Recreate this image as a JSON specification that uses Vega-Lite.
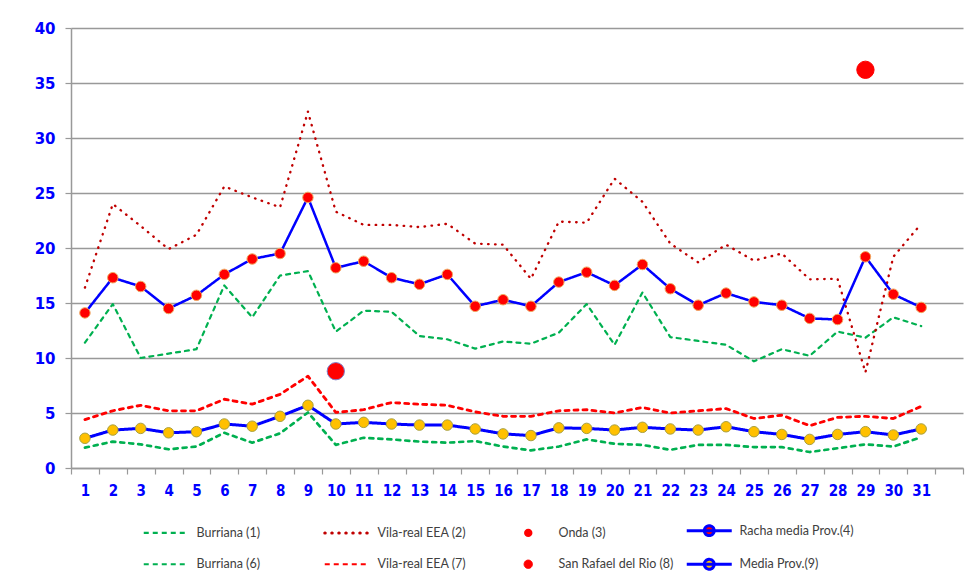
{
  "$schema": "https://vega.github.io/schema/vega-lite/v6.json",
  "width": 892,
  "height": 440,
  "autosize": {"type": "none"},
  "padding": {"left": 71, "top": 28, "right": 16, "bottom": 114},
  "background": "white",
  "config": {"view": {"stroke": null}},
  "datasets": {
    "d": [
      {"series": "Burriana (1)", "vals": [11.4,14.9,10.0,10.4,10.8,16.6,13.7,17.5,17.9,12.4,14.3,14.2,12.0,11.7,10.85,11.5,11.3,12.3,14.9,11.2,15.95,11.9,11.55,11.2,9.7,10.8,10.2,12.4,11.85,13.7,12.9]},
      {"series": "Vila-real EEA (2)", "vals": [16.4,24.0,22.0,19.9,21.2,25.6,24.6,23.7,32.4,23.3,22.1,22.1,21.9,22.2,20.4,20.3,17.2,22.4,22.3,26.3,24.2,20.4,18.7,20.3,18.85,19.5,17.15,17.2,8.7,19.2,22.2]},
      {"series": "Racha media Prov.(4)", "vals": [14.1,17.3,16.5,14.5,15.7,17.6,19.0,19.5,24.6,18.2,18.8,17.3,16.7,17.6,14.7,15.3,14.7,16.9,17.8,16.6,18.5,16.3,14.8,15.9,15.1,14.8,13.6,13.5,19.2,15.8,14.6]},
      {"series": "Burriana (6)", "vals": [1.85,2.4,2.15,1.7,1.95,3.2,2.3,3.15,5.05,2.1,2.75,2.6,2.4,2.3,2.45,1.95,1.6,1.95,2.6,2.2,2.1,1.65,2.1,2.1,1.9,1.9,1.45,1.8,2.15,1.95,2.8]},
      {"series": "Vila-real EEA (7)", "vals": [4.4,5.2,5.7,5.2,5.2,6.25,5.8,6.7,8.35,5.05,5.3,5.95,5.8,5.7,5.1,4.7,4.7,5.2,5.3,5.0,5.5,5.0,5.2,5.4,4.5,4.8,3.85,4.6,4.7,4.5,5.6]},
      {"series": "Media Prov.(9)", "vals": [2.7,3.45,3.6,3.2,3.3,4.0,3.8,4.7,5.7,4.0,4.15,4.0,3.9,3.9,3.55,3.1,2.95,3.65,3.6,3.45,3.7,3.55,3.45,3.75,3.3,3.05,2.6,3.05,3.3,3.0,3.55]}
    ],
    "single": [
      {"series": "Onda (3)", "day": 29, "value": 36.2},
      {"series": "San Rafael del Rio (8)", "day": 10, "value": 8.8}
    ]
  },
  "encoding": {
    "x": {
      "field": "day", "type": "ordinal",
      "scale": {"domain": [1,2,3,4,5,6,7,8,9,10,11,12,13,14,15,16,17,18,19,20,21,22,23,24,25,26,27,28,29,30,31,32], "paddingInner": 0, "paddingOuter": 0},
      "axis": {
        "title": null, "labelAngle": 0, "labelExpr": "datum.value == 32 ? '' : datum.label",
        "tickBand": "extent", "domainColor": "#999999", "domainWidth": 1.5, "tickColor": "#999999", "tickWidth": 1.2, "tickSize": 6,
        "labelFont": "DejaVu Sans Condensed", "labelFontWeight": "bold", "labelFontSize": 15, "labelColor": "#0000FF", "labelPadding": 9
      }
    },
    "y": {
      "field": "value", "type": "quantitative",
      "scale": {"domain": [0, 40], "nice": false},
      "axis": {
        "title": null, "values": [0,5,10,15,20,25,30,35,40], "grid": true, "gridColor": "#999999", "gridWidth": 1.5,
        "domainColor": "#999999", "domainWidth": 1.5, "tickColor": "#999999", "tickWidth": 1.2, "tickSize": 6,
        "labelFont": "DejaVu Sans", "labelFontWeight": "bold", "labelFontSize": 15, "labelColor": "#0000FF", "labelPadding": 10
      }
    }
  },
  "layer": [
    {
      "data": {"name": "d"},
      "transform": [
        {"flatten": ["vals"], "as": ["value"]},
        {"window": [{"op": "row_number", "as": "day"}], "groupby": ["series"]}
      ],
      "mark": {"type": "line", "strokeCap": "round", "strokeJoin": "round"},
      "encoding": {
        "color": {
          "field": "series", "type": "nominal",
          "scale": {
            "domain": ["Burriana (1)", "Vila-real EEA (2)", "Onda (3)", "Racha media Prov.(4)", "Burriana (6)", "Vila-real EEA (7)", "San Rafael del Rio (8)", "Media Prov.(9)"],
            "range": ["#00B050", "#C00000", "#FF0000", "#0000FF", "#00B050", "#FF0000", "#FF0000", "#0000FF"]
          },
          "legend": {
            "orient": "none", "direction": "horizontal", "legendX": 89, "legendY": 496, "columns": 4, "gridAlign": "all", "title": null,
            "symbolSize": 2025, "symbolStrokeWidth": 2,
            "labelFont": "Lato", "labelFontSize": 12.5, "labelColor": "#404040", "labelOffset": 24,
            "columnPadding": 6, "rowPadding": 11,
            "encode": {
              "symbols": {
                "update": {
                  "shape": {"signal": "(datum.value == 'Onda (3)' || datum.value == 'San Rafael del Rio (8)') ? 'circle' : (datum.value == 'Racha media Prov.(4)' || datum.value == 'Media Prov.(9)') ? 'M-1,0L1,0M-0.22,0A0.22,0.22 0 1,0 0.22,0A0.22,0.22 0 1,0 -0.22,0' : 'stroke'"},
                  "size": {"signal": "(datum.value == 'Onda (3)' || datum.value == 'San Rafael del Rio (8)') ? 70 : 2025"},
                  "fill": {"signal": "datum.value == 'Media Prov.(9)' ? '#FFC000' : (datum.value == 'Onda (3)' || datum.value == 'San Rafael del Rio (8)' || datum.value == 'Racha media Prov.(4)') ? '#FF0000' : 'transparent'"},
                  "stroke": {"signal": "(datum.value == 'Burriana (1)' || datum.value == 'Burriana (6)') ? '#00B050' : datum.value == 'Vila-real EEA (2)' ? '#C00000' : datum.value == 'Vila-real EEA (7)' ? '#FF0000' : datum.value == 'Onda (3)' ? 'transparent' : datum.value == 'San Rafael del Rio (8)' ? '#8080C8' : '#0000FF'"},
                  "strokeWidth": {"signal": "datum.value == 'San Rafael del Rio (8)' ? 1 : datum.value == 'Onda (3)' ? 0 : (datum.value == 'Racha media Prov.(4)' || datum.value == 'Media Prov.(9)') ? 3 : datum.value == 'Vila-real EEA (2)' ? 3 : 2.2"},
                  "strokeDash": {"signal": "datum.value == 'Vila-real EEA (2)' ? [0.5, 6.5] : (datum.value == 'Burriana (1)' || datum.value == 'Burriana (6)' || datum.value == 'Vila-real EEA (7)') ? [5, 4] : [1, 0]"},
                  "strokeCap": {"signal": "datum.value == 'Vila-real EEA (2)' ? 'round' : 'butt'"},
                  "opacity": {"value": 1}
                }
              }
            }
          }
        },
        "strokeDash": {
          "field": "series", "type": "nominal",
          "scale": {
            "domain": ["Burriana (1)", "Vila-real EEA (2)", "Racha media Prov.(4)", "Burriana (6)", "Vila-real EEA (7)", "Media Prov.(9)"],
            "range": [[4, 5], [0.5, 6.5], [1, 0], [4, 5], [4, 5], [1, 0]]
          },
          "legend": null
        },
        "strokeWidth": {
          "field": "series", "type": "nominal",
          "scale": {
            "domain": ["Burriana (1)", "Vila-real EEA (2)", "Racha media Prov.(4)", "Burriana (6)", "Vila-real EEA (7)", "Media Prov.(9)"],
            "range": [2.2, 3, 4.5, 2.2, 2.2, 4.5]
          },
          "legend": null
        }
      }
    },
    {
      "data": {"name": "d"},
      "transform": [
        {"filter": "datum.series == 'Racha media Prov.(4)' || datum.series == 'Media Prov.(9)'"},
        {"flatten": ["vals"], "as": ["value"]},
        {"window": [{"op": "row_number", "as": "day"}], "groupby": ["series"]}
      ],
      "mark": {"type": "circle", "size": 110, "opacity": 1, "strokeWidth": 1},
      "encoding": {
        "fill": {"condition": {"test": "datum.series == 'Media Prov.(9)'", "value": "#FFC000"}, "value": "#FF0000"},
        "stroke": {"condition": {"test": "datum.series == 'Media Prov.(9)'", "value": "#A8A040"}, "value": "#F0A860"}
      }
    },
    {
      "data": {"name": "single"},
      "mark": {"type": "circle", "opacity": 1, "fill": "#FF0000"},
      "encoding": {
        "size": {"value": 300},
        "stroke": {"condition": {"test": "datum.series == 'San Rafael del Rio (8)'", "value": "#8080C8"}, "value": "#FF0000"},
        "strokeWidth": {"value": 1}
      }
    }
  ]
}
